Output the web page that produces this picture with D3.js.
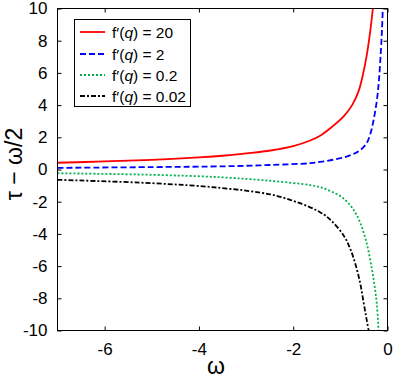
<!DOCTYPE html>
<html><head><meta charset="utf-8">
<script src="https://cdn.jsdelivr.net/npm/d3@7"></script>
<style>body{margin:0;background:#fff}svg{display:block}text{font-family:"Liberation Sans",Arial,sans-serif}</style>
</head><body><svg id="c" width="394" height="380"></svg>
<script>
const xTicks = [-6, -4, -2, 0];
const yTicks = [-10, -8, -6, -4, -2, 0, 2, 4, 6, 8, 10];
const legendLabels = ["20", "2", "0.2", "0.02"];
const redW   = [-7, -6, -5, -4, -3.44, -3, -2.48, -2, -1.64, -1.43, -1.22, -0.93, -0.75, -0.615, -0.52, -0.44, -0.37, -0.31];
const redV   = [0.42, 0.5, 0.6, 0.75, 0.87, 1.0, 1.18, 1.45, 1.8, 2.1, 2.55, 3.3, 4.0, 4.85, 5.9, 7.1, 8.5, 10];
const blueW  = [-7, -5, -3.44, -2.5, -1.64, -1.43, -1.0, -0.75, -0.58, -0.45, -0.37, -0.3, -0.225, -0.18, -0.14, -0.115, -0.1];
const blueV  = [0.1, 0.15, 0.2, 0.28, 0.39, 0.47, 0.7, 0.93, 1.2, 1.6, 2.15, 3.0, 4.3, 5.6, 7.4, 8.8, 10];
const greenW = [-7, -5, -3.55, -2.5, -1.64, -1.43, -1.2, -0.93, -0.72, -0.58, -0.44, -0.33, -0.27, -0.225, -0.19];
const greenV = [-0.23, -0.33, -0.48, -0.7, -0.97, -1.1, -1.35, -1.8, -2.5, -3.3, -4.6, -6.2, -7.3, -8.4, -10];
const blackW = [-7, -5, -3.55, -2.48, -2, -1.64, -1.43, -1.22, -0.93, -0.78, -0.65, -0.57, -0.51, -0.45, -0.4];
const blackV = [-0.64, -0.85, -1.14, -1.55, -1.95, -2.35, -2.65, -3.1, -4.1, -5.0, -6.2, -7.2, -8.2, -9.2, -10];

const series = [
  {w: redW, v: redV, color: "#ff0000", dash: null},
  {w: blueW, v: blueV, color: "#0000ff", dash: "6,3"},
  {w: greenW, v: greenV, color: "#00b050", dash: "2,2"},
  {w: blackW, v: blackV, color: "#000000", dash: "5,2,2,2"}
];

const L = 57.5, R = 387.5, T = 8.5, B = 330.5;
const svg = d3.select("#c");
const x = d3.scaleLinear().domain([-7, 0]).range([L, R]);
const y = d3.scaleLinear().domain([-10, 10]).range([B, T]);

svg.append("defs").append("clipPath").attr("id", "clip")
  .append("rect").attr("x", L).attr("y", T).attr("width", R - L).attr("height", B - T);

const fs = "17px";
const gx = svg.append("g").attr("transform", `translate(0,${B})`)
  .call(d3.axisBottom(x).tickValues(xTicks).tickSizeInner(-4).tickSizeOuter(0).tickPadding(12));
const gy = svg.append("g").attr("transform", `translate(${L},0)`)
  .call(d3.axisLeft(y).tickValues(yTicks).tickSizeInner(-4).tickSizeOuter(0).tickPadding(10));
const gt = svg.append("g").attr("transform", `translate(0,${T})`)
  .call(d3.axisTop(x).tickValues(xTicks).tickSizeInner(-4).tickSizeOuter(0).tickFormat(""));
const gr = svg.append("g").attr("transform", `translate(${R},0)`)
  .call(d3.axisRight(y).tickValues(yTicks).tickSizeInner(-4).tickSizeOuter(0).tickFormat(""));
[gx, gy, gt, gr].forEach(g => {
  g.select(".domain").remove();
  g.selectAll("line").attr("stroke", "#000");
  g.selectAll("text").attr("font-size", fs).attr("fill", "#000").attr("font-family", "Liberation Sans, Arial, sans-serif");
});
gy.selectAll("text").text(d => String(d));
gx.selectAll("text").text(d => String(d));

const line = d3.line().x(d => x(d[0])).y(d => y(d[1])).curve(d3.curveCatmullRom.alpha(0.5));
const plot = svg.append("g").attr("clip-path", "url(#clip)");
series.forEach(s => {
  const pts = s.w.map((w, i) => [w, s.v[i]]);
  plot.append("path").attr("d", line(pts)).attr("fill", "none")
    .attr("stroke", s.color).attr("stroke-width", 1.8)
    .attr("stroke-dasharray", s.dash);
});

svg.append("rect").attr("x", L).attr("y", T).attr("width", R - L).attr("height", B - T)
  .attr("fill", "none").attr("stroke", "#000").attr("stroke-width", 1);

// legend
const lg = svg.append("g");
lg.append("rect").attr("x", 74.5).attr("y", 19.5).attr("width", 116).attr("height", 87)
  .attr("fill", "#fff").attr("stroke", "#000").attr("stroke-width", 1);
const ly = [32, 54, 75, 96];
series.forEach((s, i) => {
  lg.append("line").attr("x1", 80).attr("x2", 105).attr("y1", ly[i]).attr("y2", ly[i])
    .attr("stroke", s.color).attr("stroke-width", 1.8).attr("stroke-dasharray", s.dash);
  const t = lg.append("text").attr("x", 112).attr("y", ly[i] + 5.5).attr("font-size", "15.5px").attr("fill", "#000");
  t.append("tspan").text("f\u2032(");
  t.append("tspan").attr("font-style", "italic").text("q");
  t.append("tspan").text(") = " + legendLabels[i]);
});

// axis labels
svg.append("text").attr("x", 216).attr("y", 374).attr("text-anchor", "middle")
  .attr("font-size", "23px").attr("fill", "#000").text("\u03c9");
svg.append("text").attr("transform", "translate(22,164) rotate(-90)").attr("text-anchor", "middle")
  .attr("font-size", "23px").attr("fill", "#000").text("\u03c4 \u2212 \u03c9/2");
</script></body></html>
